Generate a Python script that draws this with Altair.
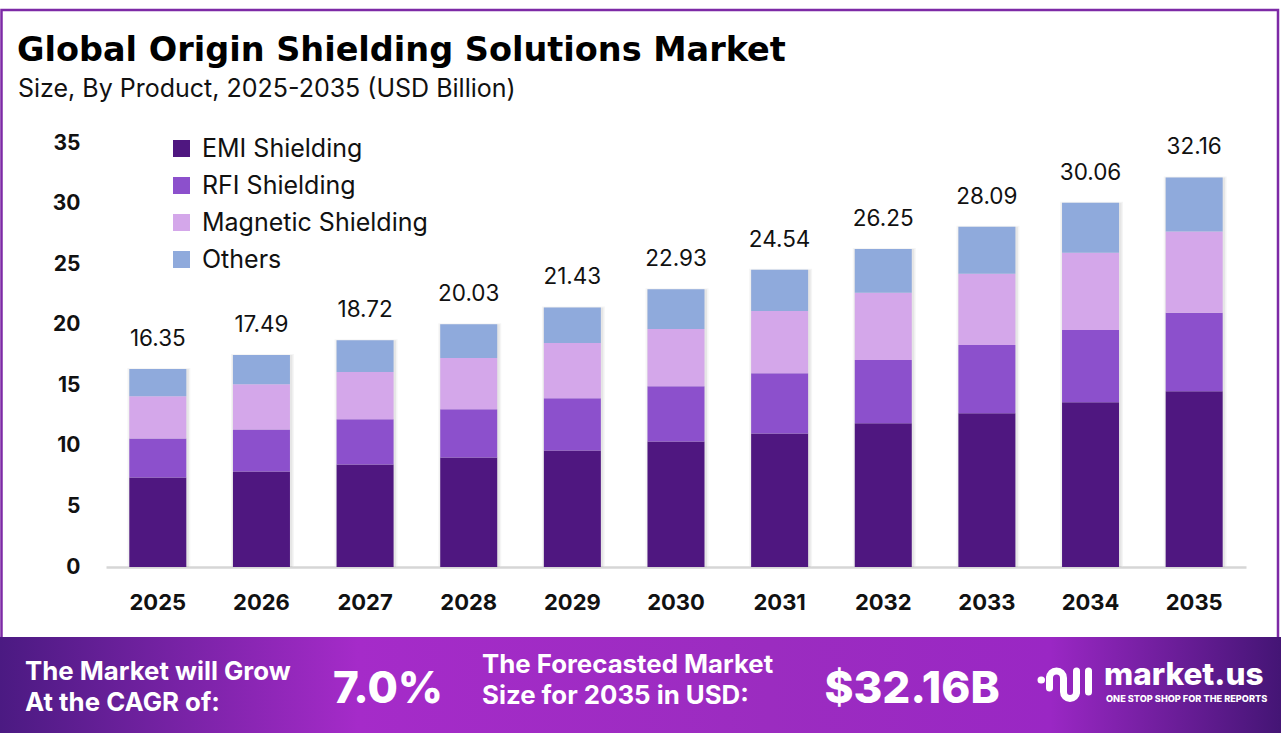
import altair as alt
import pandas as pd

# ---- data -------------------------------------------------------------
years = ["2025", "2026", "2027", "2028", "2029", "2030",
         "2031", "2032", "2033", "2034", "2035"]
segments = ["EMI Shielding", "RFI Shielding", "Magnetic Shielding", "Others"]
emi = [7.38, 7.88, 8.46, 9.04, 9.62, 10.36, 11.03, 11.86, 12.69, 13.60, 14.51]
rfi = [3.23, 3.48, 3.73, 3.98, 4.31, 4.57, 4.97, 5.22, 5.64, 5.97, 6.47]
magnetic = [3.49, 3.73, 3.90, 4.23, 4.56, 4.72, 5.14, 5.56, 5.88, 6.38, 6.71]
others = [2.25, 2.40, 2.63, 2.78, 2.94, 3.28, 3.40, 3.61, 3.88, 4.11, 4.47]
seg_colors = ["#4f1780", "#8c50cc", "#d4a7ea", "#8faadc"]

cagr_text = "7.0%"
forecast_text = "$32.16B"

FONT = "Inter"
TITLE_FONT = "DejaVu Sans"

rows = []
for i, y in enumerate(years):
    for k, (name, vals) in enumerate(zip(segments, [emi, rfi, magnetic, others])):
        rows.append({"year": y, "segment": name, "order": k, "value": vals[i]})
df = pd.DataFrame(rows)

W, H = 1140, 424          # plot area
OX, OY = 106, 143         # plot origin inside the 1281 x 746 canvas
one = pd.DataFrame([{"k": 0}])


def px(x):
    return alt.value(x - OX)


def py(y):
    return alt.value(y - OY)


x_enc = alt.X("year:N", sort=years,
              scale=alt.Scale(paddingInner=0.45, paddingOuter=0.225),
              axis=alt.Axis(title=None, labelAngle=0, labelAlign="center",
                            labelBaseline="top", labelFont=FONT,
                            labelFontSize=22, labelFontWeight="bold",
                            labelColor="#111", labelPadding=25, ticks=False,
                            domainColor="#d6d6d6", domainWidth=2.5))
y_axis = alt.Axis(title=None, values=[0, 5, 10, 15, 20, 25, 30, 35],
                  labelFont=FONT, labelFontSize=21, labelFontWeight="bold",
                  labelColor="#111", labelPadding=26, ticks=False,
                  domain=False, grid=False)
y_scale = alt.Scale(domain=[0, 35], nice=False)

# frame around the chart body
frame = alt.Chart(one).mark_rect(fill=None, stroke="#7d2aa6", strokeWidth=2.5).encode(
    x=px(1.5), x2=px(1278), y=py(10), y2=py(640))

# soft shadow behind each stacked column
def shadow(size, opacity, dx, dy):
    return alt.Chart(df).transform_aggregate(
        total="sum(value)", groupby=["year"]
    ).mark_bar(size=size, color="#000", opacity=opacity,
               xOffset=dx, yOffset=dy).encode(
        x=x_enc, y=alt.Y("total:Q", scale=y_scale, axis=y_axis))


shadows = [shadow(63, 0.04, 1, -1), shadow(60, 0.06, 1, 0)]

bars = alt.Chart(df).mark_bar(size=57).encode(
    x=x_enc,
    y=alt.Y("value:Q", stack="zero", scale=y_scale, axis=y_axis),
    color=alt.Color("segment:N",
                    scale=alt.Scale(domain=segments, range=seg_colors),
                    legend=alt.Legend(title=None, orient="none",
                                      legendX=63, legendY=-7,
                                      symbolType="square", symbolSize=290,
                                      symbolStrokeWidth=0, symbolOpacity=1,
                                      labelFont=FONT, labelFontSize=25,
                                      labelColor="#111", labelOffset=8,
                                      labelLimit=0, rowPadding=11)),
    order=alt.Order("order:Q"),
)

totals = alt.Chart(df).transform_aggregate(
    total="sum(value)", groupby=["year"]
).mark_text(font=FONT, fontSize=22.5, color="#111", baseline="alphabetic",
            dy=-23).encode(
    x=x_enc,
    y=alt.Y("total:Q", scale=y_scale, axis=y_axis),
    text=alt.Text("total:Q", format=".2f"),
)

title = alt.Chart(one).mark_text(font=TITLE_FONT, fontSize=33.5, fontWeight="bold",
                                 color="#000", align="left",
                                 baseline="alphabetic").encode(
    x=px(17), y=py(61), text=alt.value("Global Origin Shielding Solutions Market"))
subtitle = alt.Chart(one).mark_text(font=FONT, fontSize=25, color="#111",
                                    align="left", baseline="alphabetic").encode(
    x=px(18), y=py(97), text=alt.value("Size, By Product, 2025-2035 (USD Billion)"))

# bottom banner
banner = alt.Chart(one).mark_rect(
    color=alt.Gradient(gradient="linear", x1=0, y1=0, x2=1, y2=0,
                       stops=[alt.GradientStop(offset=0, color="#4b1a82"),
                              alt.GradientStop(offset=0.28, color="#a52bc9"),
                              alt.GradientStop(offset=0.6, color="#9b2cc0"),
                              alt.GradientStop(offset=0.82, color="#9a27c4"),
                              alt.GradientStop(offset=1, color="#441575")])
).encode(x=px(0), x2=px(1281), y=py(637), y2=py(733))


def btext(txt, x, y, size, weight="bold", align="left"):
    return alt.Chart(one).mark_text(font=FONT, fontSize=size, fontWeight=weight,
                                    color="white", align=align,
                                    baseline="alphabetic").encode(
        x=px(x), y=py(y), text=alt.value(txt))


banner_texts = [
    btext("The Market will Grow", 25, 680, 25.8),
    btext("At the CAGR of:", 25, 711, 25.8),
    btext(cagr_text, 388, 703, 44, weight=800, align="center"),
    btext("The Forecasted Market", 482, 673, 25.8),
    btext("Size for 2035 in USD:", 482, 704, 25.8),
    btext(forecast_text, 912, 703, 44, weight=800, align="center"),
    btext("market.us", 1104, 685, 31.5, weight=800),
    btext("ONE STOP SHOP FOR THE REPORTS", 1106, 702, 9.2, weight=800),
]

# market.us glyph: dot, arch, hook and bars
logo = [
    alt.Chart(one).mark_rule(color="white", strokeWidth=7, strokeCap="round").encode(
        x=px(1041), x2=px(1041.5), y=py(680), y2=py(680)),
    alt.Chart(one).mark_arc(color="white", radius=10.5, radius2=3.5,
                            theta=4.7124, theta2=7.854).encode(
        x=px(1056.5), y=py(678)),
    alt.Chart(one).mark_rule(color="white", strokeWidth=7, strokeCap="round").encode(
        x=px(1049.5), y=py(678), y2=py(688)),
    alt.Chart(one).mark_rule(color="white", strokeWidth=7).encode(
        x=px(1063.5), y=py(678), y2=py(692)),
    alt.Chart(one).mark_arc(color="white", radius=10, radius2=3,
                            theta=1.5708, theta2=4.7124).encode(
        x=px(1070), y=py(692)),
    alt.Chart(one).mark_rule(color="white", strokeWidth=7, strokeCap="round").encode(
        x=px(1076.5), y=py(671), y2=py(692)),
    alt.Chart(one).mark_rule(color="white", strokeWidth=7, strokeCap="round").encode(
        x=px(1088.5), y=py(671), y2=py(692)),
]

chart = alt.layer(
    frame, *shadows, bars, totals, title, subtitle, banner,
    *banner_texts, *logo
).properties(
    width=W, height=H,
    padding={"left": OX, "top": OY, "right": 1281 - OX - W, "bottom": 746 - OY - H},
    autosize=alt.AutoSizeParams(type="none"),
    background="white",
).configure_view(stroke=None)

chart.save("out.html", embed_options={"renderer": "svg", "actions": False})
